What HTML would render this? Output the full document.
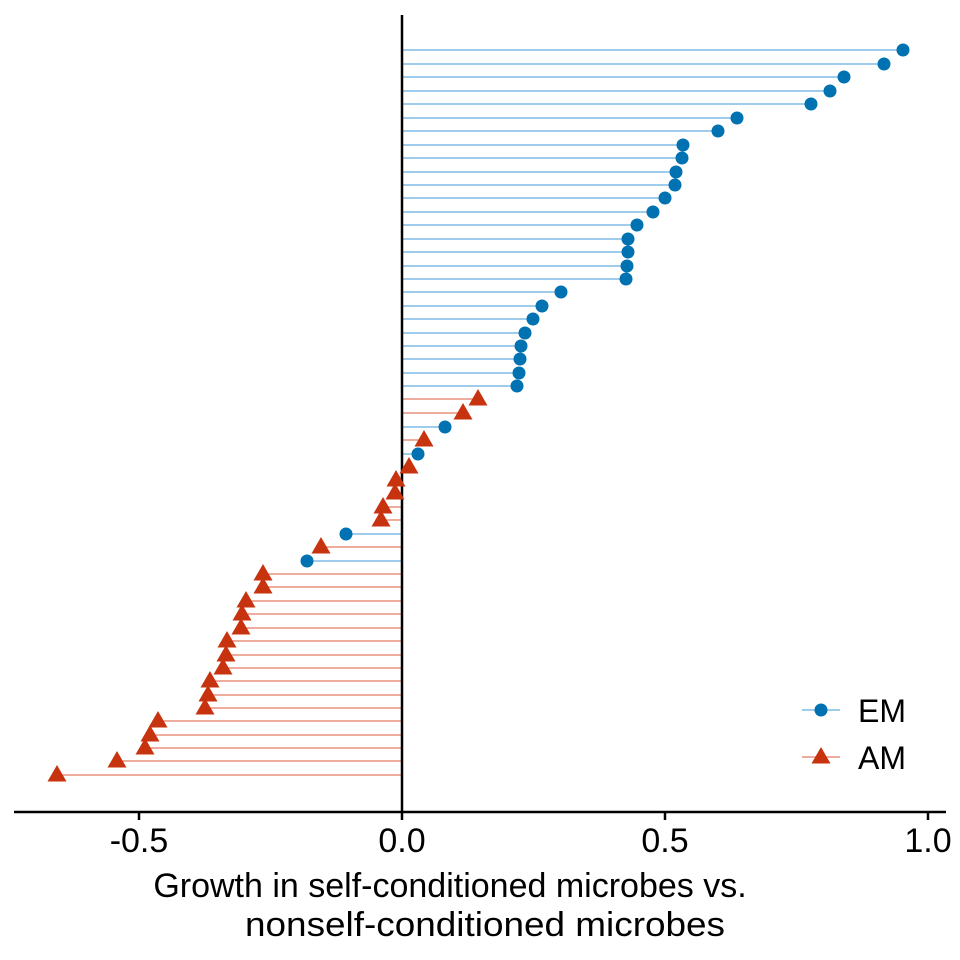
<!DOCTYPE html>
<html><head><meta charset="utf-8"><style>body{margin:0;background:#fff}svg{display:block}</style></head><body>
<svg width="960" height="960" viewBox="0 0 960 960" xmlns="http://www.w3.org/2000/svg" font-family="Liberation Sans, sans-serif">
<defs>
<g id="e"><circle r="6.5" fill="#0072B2"/></g>
<g id="a"><polygon points="0,-10 9.5,6.5 -9.5,6.5" fill="#C8330F"/></g>
</defs>
<g stroke-width="1">
<g stroke="#3f9ad6">
<line x1="402" x2="903" y1="50" y2="50"/><line x1="402" x2="884" y1="64" y2="64"/><line x1="402" x2="844" y1="77" y2="77"/><line x1="402" x2="830" y1="91" y2="91"/><line x1="402" x2="811" y1="104" y2="104"/><line x1="402" x2="737" y1="118" y2="118"/><line x1="402" x2="718" y1="131" y2="131"/><line x1="402" x2="683" y1="145" y2="145"/><line x1="402" x2="682" y1="158" y2="158"/><line x1="402" x2="676" y1="172" y2="172"/><line x1="402" x2="675" y1="185" y2="185"/><line x1="402" x2="665" y1="198" y2="198"/><line x1="402" x2="653" y1="212" y2="212"/><line x1="402" x2="637" y1="225" y2="225"/><line x1="402" x2="628" y1="239" y2="239"/><line x1="402" x2="628" y1="252" y2="252"/><line x1="402" x2="627" y1="266" y2="266"/><line x1="402" x2="626" y1="279" y2="279"/><line x1="402" x2="561" y1="292" y2="292"/><line x1="402" x2="542" y1="306" y2="306"/><line x1="402" x2="533" y1="319" y2="319"/><line x1="402" x2="525" y1="333" y2="333"/><line x1="402" x2="521" y1="346" y2="346"/><line x1="402" x2="520" y1="359" y2="359"/><line x1="402" x2="519" y1="373" y2="373"/><line x1="402" x2="517" y1="386" y2="386"/>
<line x1="402" x2="445" y1="427" y2="427"/><line x1="402" x2="418" y1="454" y2="454"/><line x1="346" x2="402" y1="534" y2="534"/><line x1="307" x2="402" y1="561" y2="561"/>
</g>
<g stroke="#dc5a3c">
<line x1="402" x2="478" y1="399" y2="399"/><line x1="402" x2="463" y1="413" y2="413"/><line x1="402" x2="424" y1="440" y2="440"/><line x1="402" x2="409" y1="467" y2="467"/><line x1="396" x2="402" y1="480" y2="480"/><line x1="395" x2="402" y1="493" y2="493"/><line x1="383" x2="402" y1="507" y2="507"/><line x1="381" x2="402" y1="520" y2="520"/><line x1="321" x2="402" y1="547" y2="547"/><line x1="263" x2="402" y1="574" y2="574"/><line x1="263" x2="402" y1="587" y2="587"/><line x1="246" x2="402" y1="601" y2="601"/><line x1="242" x2="402" y1="614" y2="614"/><line x1="241" x2="402" y1="628" y2="628"/><line x1="227" x2="402" y1="641" y2="641"/><line x1="226" x2="402" y1="655" y2="655"/><line x1="223" x2="402" y1="668" y2="668"/><line x1="210" x2="402" y1="681" y2="681"/><line x1="208" x2="402" y1="695" y2="695"/><line x1="205" x2="402" y1="708" y2="708"/><line x1="158" x2="402" y1="721" y2="721"/><line x1="150" x2="402" y1="735" y2="735"/><line x1="145" x2="402" y1="748" y2="748"/><line x1="117" x2="402" y1="761" y2="761"/><line x1="57" x2="402" y1="775" y2="775"/>
</g>
</g>
<line x1="402" y1="15" x2="402" y2="813" stroke="#000" stroke-width="2.5"/>
<line x1="14" y1="812" x2="946" y2="812" stroke="#000" stroke-width="2.5"/>
<g stroke="#000" stroke-width="2.5"><line x1="139" x2="139" y1="812" y2="820"/><line x1="402" x2="402" y1="812" y2="820"/><line x1="665" x2="665" y1="812" y2="820"/><line x1="928" x2="928" y1="812" y2="820"/></g>
<use href="#e" x="903" y="50"/><use href="#e" x="884" y="64"/><use href="#e" x="844" y="77"/><use href="#e" x="830" y="91"/><use href="#e" x="811" y="104"/><use href="#e" x="737" y="118"/><use href="#e" x="718" y="131"/><use href="#e" x="683" y="145"/><use href="#e" x="682" y="158"/><use href="#e" x="676" y="172"/><use href="#e" x="675" y="185"/><use href="#e" x="665" y="198"/><use href="#e" x="653" y="212"/><use href="#e" x="637" y="225"/><use href="#e" x="628" y="239"/><use href="#e" x="628" y="252"/><use href="#e" x="627" y="266"/><use href="#e" x="626" y="279"/><use href="#e" x="561" y="292"/><use href="#e" x="542" y="306"/><use href="#e" x="533" y="319"/><use href="#e" x="525" y="333"/><use href="#e" x="521" y="346"/><use href="#e" x="520" y="359"/><use href="#e" x="519" y="373"/><use href="#e" x="517" y="386"/><use href="#e" x="445" y="427"/><use href="#e" x="418" y="454"/><use href="#e" x="346" y="534"/><use href="#e" x="307" y="561"/>
<use href="#a" x="478" y="399"/><use href="#a" x="463" y="413"/><use href="#a" x="424" y="440"/><use href="#a" x="409" y="467"/><use href="#a" x="396" y="480"/><use href="#a" x="395" y="493"/><use href="#a" x="383" y="507"/><use href="#a" x="381" y="520"/><use href="#a" x="321" y="547"/><use href="#a" x="263" y="574"/><use href="#a" x="263" y="587"/><use href="#a" x="246" y="601"/><use href="#a" x="242" y="614"/><use href="#a" x="241" y="628"/><use href="#a" x="227" y="641"/><use href="#a" x="226" y="655"/><use href="#a" x="223" y="668"/><use href="#a" x="210" y="681"/><use href="#a" x="208" y="695"/><use href="#a" x="205" y="708"/><use href="#a" x="158" y="721"/><use href="#a" x="150" y="735"/><use href="#a" x="145" y="748"/><use href="#a" x="117" y="761"/><use href="#a" x="57" y="775"/>
<g font-size="34" text-anchor="middle" fill="#000">
<text x="139" y="852">-0.5</text><text x="402" y="852">0.0</text><text x="665" y="852">0.5</text><text x="928" y="852">1.0</text>
<text x="450" y="897">Growth in self-conditioned microbes vs.</text>
<text x="485" y="936" textLength="480" lengthAdjust="spacingAndGlyphs">nonself-conditioned microbes</text>
</g>
<line x1="802" x2="840" y1="710" y2="710" stroke="#3f9ad6" stroke-width="1"/>
<use href="#e" x="821" y="710"/>
<line x1="802" x2="840" y1="757" y2="757" stroke="#dc5a3c" stroke-width="1"/>
<use href="#a" x="821" y="757"/>
<g font-size="32" fill="#000"><text x="858" y="722">EM</text><text x="858" y="769">AM</text></g>
</svg>
</body></html>
